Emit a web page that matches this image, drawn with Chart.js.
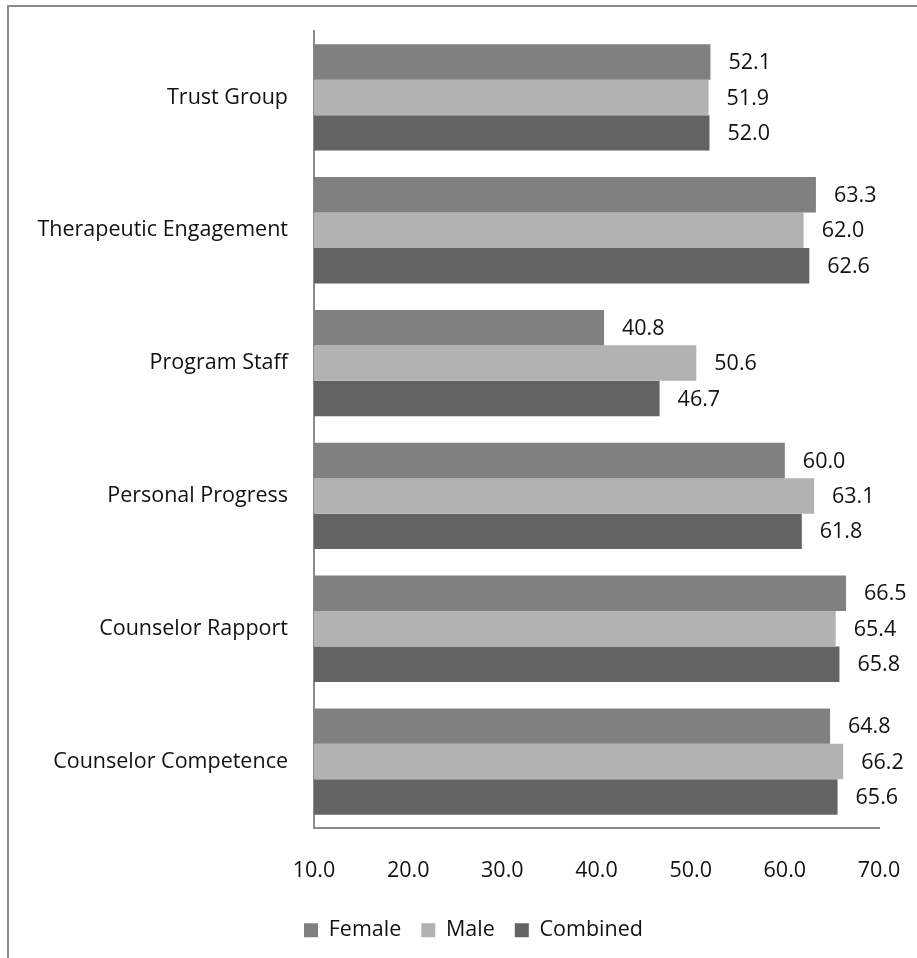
<!DOCTYPE html>
<html>
<head>
<meta charset="utf-8">
<script src="https://cdn.jsdelivr.net/npm/chart.js@4/dist/chart.umd.min.js"></script>
<style>
    html, body { margin: 0; padding: 0; background: #fff; overflow: hidden; }
    #frame {
        position: absolute; left: 7px; top: 5px; width: 1000px; height: 1000px;
        border: 2px solid #8c8c8c;
    }
    #wrap { position: absolute; left: 0; top: 0; width: 917px; height: 958px; }
</style>
</head>
<body>
<div id="frame"></div>
<div id="wrap"><canvas id="scoreChart"></canvas></div>
<script>
// Scale scores by domain and gender
const categories = ['Trust Group', 'Therapeutic Engagement', 'Program Staff',
                    'Personal Progress', 'Counselor Rapport', 'Counselor Competence'];
const femaleScores   = [52.1, 63.3, 40.8, 60.0, 66.5, 64.8];
const maleScores     = [51.9, 62.0, 50.6, 63.1, 65.4, 66.2];
const combinedScores = [52.0, 62.6, 46.7, 61.8, 65.8, 65.6];
const xTicks = [10, 20, 30, 40, 50, 60, 70];

const FONT = '"Open Sans", "DejaVu Sans", sans-serif';
const FONT_SIZE = 21.5;

// Value labels to the right of each bar
const barLabels = {
    id: 'barLabels',
    afterDatasetsDraw(chart) {
        const ctx = chart.ctx;
        ctx.save();
        ctx.font = FONT_SIZE + 'px ' + FONT;
        ctx.fillStyle = '#111';
        ctx.textAlign = 'left';
        ctx.textBaseline = 'middle';
        chart.data.datasets.forEach((ds, i) => {
            chart.getDatasetMeta(i).data.forEach((bar, j) => {
                ctx.fillText(ds.data[j].toFixed(1), bar.x + 18, bar.y + 1);
            });
        });
        ctx.restore();
    }
};

// Legend sits a little right of the canvas centre, under the plot
const legendShift = {
    id: 'legendShift',
    afterLayout(chart) {
        const lg = chart.legend;
        const w = lg.right - lg.left;
        lg.left = 284;
        lg.right = 284 + w;
    }
};

const hiddenGrid = {
    display: true,
    color: 'rgba(0,0,0,0)',
    drawOnChartArea: false,
    drawTicks: true
};

const ctx = document.getElementById('scoreChart').getContext('2d');
new Chart(ctx, {
    type: 'bar',
    data: {
        labels: categories,
        datasets: [
            { label: 'Female',   data: femaleScores,   backgroundColor: '#808080' },
            { label: 'Male',     data: maleScores,     backgroundColor: '#b2b2b2' },
            { label: 'Combined', data: combinedScores, backgroundColor: '#636363' }
        ]
    },
    options: {
        indexAxis: 'y',
        responsive: true,
        maintainAspectRatio: false,
        animation: false,
        layout: { padding: { top: 31, left: 0, right: 38, bottom: 7 } },
        datasets: {
            bar: { categoryPercentage: 0.8, barPercentage: 1.0 }
        },
        scales: {
            x: {
                min: 10,
                max: 70,
                afterBuildTicks(scale) {
                    scale.ticks = xTicks.map(v => ({ value: v }));
                },
                afterFit(scale) { scale.height = 71.5; },
                grid: Object.assign({}, hiddenGrid, { tickLength: 30 }),
                border: { display: true, color: '#8c8c8c', width: 2 },
                ticks: {
                    padding: 0,
                    color: '#111',
                    font: { family: FONT, size: FONT_SIZE },
                    callback: v => Number(v).toFixed(1)
                }
            },
            y: {
                afterFit(scale) { scale.width = 314; },
                grid: Object.assign({}, hiddenGrid, { tickLength: 26 }),
                border: { display: true, color: '#8c8c8c', width: 2 },
                ticks: {
                    padding: 0,
                    color: '#111',
                    font: { family: FONT, size: FONT_SIZE }
                }
            }
        },
        plugins: {
            legend: {
                position: 'bottom',
                align: 'start',
                labels: {
                    boxWidth: 14,
                    boxHeight: 14,
                    padding: 20,
                    color: '#111',
                    font: { family: FONT, size: FONT_SIZE }
                }
            },
            tooltip: { enabled: false }
        }
    },
    plugins: [barLabels, legendShift]
});
</script>
</body>
</html>
